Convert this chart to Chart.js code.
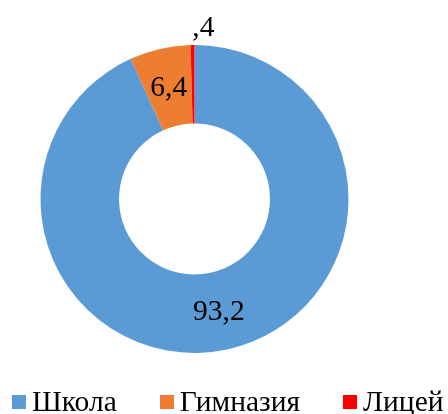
<!DOCTYPE html>
<html>
<head>
<meta charset="utf-8">
<script src="https://cdn.jsdelivr.net/npm/chart.js@4/dist/chart.umd.min.js"></script>
<style>
    html, body { margin: 0; padding: 0; background: #ffffff; }
    #wrap { position: relative; width: 448px; height: 414px; }
    #legend {
        position: absolute; left: 12px; top: 387px;
        display: flex; gap: 43px;
        font-family: "Liberation Serif", "Times New Roman", serif;
        font-size: 29.5px; line-height: 29px; color: #000000;
    }
    .item { display: flex; align-items: center; white-space: nowrap; }
    .box { width: 14px; height: 14px; margin-right: 6px; }
</style>
</head>
<body>
<div id="wrap">
    <canvas id="myChart" width="448" height="414"></canvas>
    <div id="legend"></div>
</div>
<script>
/*----------------------------------------------------------------------------*/
/* Data                                                                       */
/*----------------------------------------------------------------------------*/
const categories = ["Школа", "Гимназия", "Лицей"];
const values = [93.2, 6.4, 0.4];
const value_labels = ["93,2", "6,4", ",4"];
const colors = ["#5B9BD5", "#ED7D31", "#FF0000"];

const font_family = '"Liberation Serif", "Times New Roman", serif';

/*----------------------------------------------------------------------------*/
/* Value labels                                                               */
/*----------------------------------------------------------------------------*/
const value_label_plugin = {
    id: "valueLabels",
    afterDatasetsDraw(chart) {
        const ctx = chart.ctx;
        const meta = chart.getDatasetMeta(0);
        ctx.save();
        ctx.font = `29.5px ${font_family}`;
        ctx.fillStyle = "#000000";
        ctx.textBaseline = "middle";

        meta.data.forEach(function (arc, i) {
            const p = arc.getProps(["x", "y", "startAngle", "endAngle", "innerRadius", "outerRadius"], true);
            const mid = (p.startAngle + p.endAngle) / 2;
            const share = values[i] / values.reduce((a, b) => a + b, 0);
            let r, align;
            if (share < 0.02) {
                // tiny slice: label sits outside the ring
                r = p.outerRadius + 18;
                align = "left";
            } else {
                r = (p.innerRadius + p.outerRadius) / 2;
                align = "center";
            }
            ctx.textAlign = align;
            ctx.fillText(value_labels[i], p.x + Math.cos(mid) * r, p.y + Math.sin(mid) * r + 1);
        });
        ctx.restore();
    }
};

/*----------------------------------------------------------------------------*/
/* Chart                                                                      */
/*----------------------------------------------------------------------------*/
const ctx = document.getElementById("myChart").getContext("2d");
const myChart = new Chart(ctx, {
    type: "doughnut",
    data: {
        labels: categories,
        datasets: [{
            data: values,
            backgroundColor: colors,
            borderWidth: 0
        }]
    },
    options: {
        responsive: false,
        animation: false,
        cutout: "49%",
        layout: {
            padding: { top: 45, bottom: 61, left: 0, right: 59 }
        },
        plugins: {
            legend: { display: false },
            tooltip: { enabled: false }
        }
    },
    plugins: [value_label_plugin]
});

/*----------------------------------------------------------------------------*/
/* Legend                                                                     */
/*----------------------------------------------------------------------------*/
const legend_tag = document.getElementById("legend");
for (let i = 0; i < categories.length; i++) {
    const item = document.createElement("div");
    item.className = "item";
    const box = document.createElement("span");
    box.className = "box";
    box.style.background = colors[i];
    const text = document.createElement("span");
    text.innerText = categories[i];
    item.appendChild(box);
    item.appendChild(text);
    legend_tag.appendChild(item);
}
</script>
</body>
</html>
